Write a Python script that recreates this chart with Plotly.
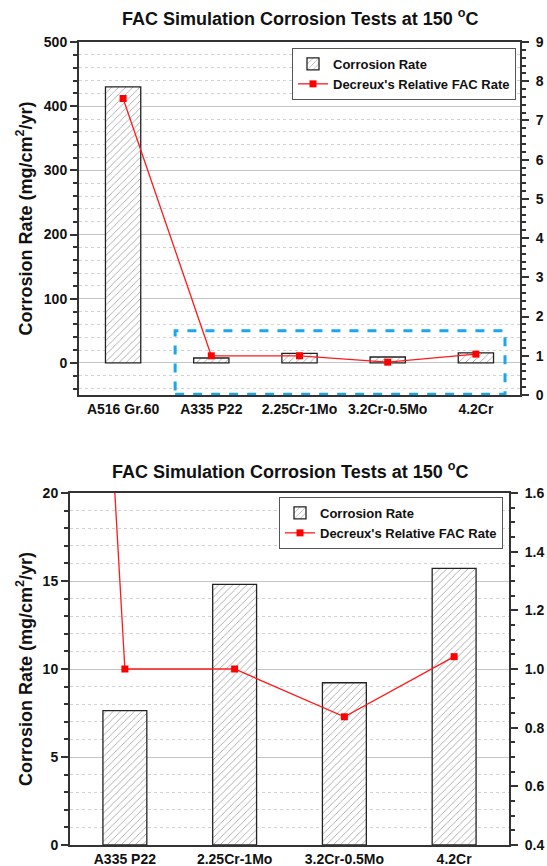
import plotly.graph_objects as go

# ---------------- data ----------------
categories = ["A516 Gr.60", "A335 P22", "2.25Cr-1Mo", "3.2Cr-0.5Mo", "4.2Cr"]
corrosion_rate = [430, 7.63, 14.81, 9.22, 15.72]          # mg/cm2/yr
decreux_relative = [7.56, 1.0, 1.0, 0.837, 1.042]         # relative FAC rate

title_text = "FAC Simulation Corrosion Tests at 150 <sup>o</sup>C"
ytitle_text = "Corrosion Rate (mg/cm<sup>2</sup>/yr)"

W, H = 547, 866
FONT = "Liberation Sans, Arial, sans-serif"


def px_x(p):
    return p / W


def px_y(p):
    return 1 - p / H


bar_style = dict(
    marker=dict(
        color="white",
        line=dict(color="#222", width=1.3),
        pattern=dict(shape="/", fgcolor="#3a3a3a", bgcolor="white", size=5, solidity=0.16),
    ),
    width=0.4,
)
line_style = dict(
    mode="lines+markers",
    line=dict(color="#ff1a1a", width=1.3),
    marker=dict(symbol="square", size=7, color="#ff0000"),
)

fig = go.Figure()

# top panel
fig.add_trace(go.Bar(x=categories, y=corrosion_rate, name="Corrosion Rate",
                     xaxis="x", yaxis="y", legend="legend", **bar_style))
fig.add_trace(go.Scatter(x=categories, y=decreux_relative, name="Decreux's Relative FAC Rate",
                         xaxis="x", yaxis="y2", legend="legend", **line_style))

# bottom panel (zoomed)
fig.add_trace(go.Bar(x=categories[1:], y=corrosion_rate[1:], name="Corrosion Rate",
                     xaxis="x2", yaxis="y3", legend="legend2", **bar_style))
fig.add_trace(go.Scatter(x=categories, y=decreux_relative, name="Decreux's Relative FAC Rate",
                         xaxis="x2", yaxis="y4", legend="legend2", **line_style))

tickfont = dict(family=FONT, size=14, color="#111", weight="bold")
axis_line = dict(showline=True, linecolor="#333", linewidth=2, automargin=False)
grid_major = dict(showgrid=True, gridcolor="#c4c4c4", gridwidth=1.3)
zero = dict(zeroline=False)

top_x = [px_x(79), px_x(520)]
top_y = [px_y(395), px_y(42)]
bot_x = [px_x(70), px_x(509)]
bot_y = [px_y(845), px_y(493)]

fig.update_layout(
    width=W, height=H,
    margin=dict(l=0, r=0, t=0, b=0, autoexpand=False),
    paper_bgcolor="white", plot_bgcolor="white",
    font=dict(family=FONT, color="#111"),
    xaxis=dict(domain=top_x, anchor="y", type="category", categoryarray=categories,
               categoryorder="array", range=[-0.5, 4.5], mirror=True, ticks="",
               tickfont=tickfont, showgrid=False, **axis_line),
    yaxis=dict(domain=top_y, anchor="x", range=[-50, 500], tick0=0, dtick=100,
               ticks="outside", ticklen=7, tickwidth=1.5, tickcolor="#333",
               tickfont=tickfont,
               minor=dict(dtick=20, ticks="outside", ticklen=4, tickcolor="#333",
                          showgrid=True, gridcolor="#d2d2d2", griddash="dot", gridwidth=1),
               **grid_major, **axis_line, **zero),
    yaxis2=dict(overlaying="y", anchor="x", side="right", range=[0, 9], tick0=0, dtick=1,
                ticks="outside", ticklen=7, tickwidth=1.5, tickcolor="#333",
                tickfont=tickfont, showgrid=False, ticklabelstandoff=4,
                minor=dict(dtick=0.2, ticks="outside", ticklen=4, tickcolor="#333", showgrid=False),
                **axis_line, **zero),
    xaxis2=dict(domain=bot_x, anchor="y3", type="category", categoryarray=categories,
                categoryorder="array", range=[0.5, 4.5], mirror=True, ticks="",
                tickfont=tickfont, showgrid=False, **axis_line),
    yaxis3=dict(domain=bot_y, anchor="x2", range=[0, 20], tick0=0, dtick=5,
                ticks="outside", ticklen=7, tickwidth=1.5, tickcolor="#333",
                tickfont=tickfont,
                minor=dict(dtick=1, ticks="outside", ticklen=4, tickcolor="#333",
                           showgrid=True, gridcolor="#d2d2d2", griddash="dot", gridwidth=1),
                **grid_major, **axis_line, **zero),
    yaxis4=dict(overlaying="y3", anchor="x2", side="right", range=[0.4, 1.6], tick0=0.4,
                dtick=0.2, tickformat=".1f",
                ticks="outside", ticklen=7, tickwidth=1.5, tickcolor="#333",
                tickfont=tickfont, showgrid=False, ticklabelstandoff=4,
                minor=dict(dtick=0.05, ticks="outside", ticklen=4, tickcolor="#333", showgrid=False),
                **axis_line, **zero),
    legend=dict(x=px_x(516), y=px_y(48), xanchor="right", yanchor="top",
                bgcolor="white", bordercolor="#555", borderwidth=1,
                font=dict(family=FONT, size=13, color="#111", weight="bold"),
                tracegroupgap=0, itemwidth=30),
    legend2=dict(x=px_x(503), y=px_y(497), xanchor="right", yanchor="top",
                 bgcolor="white", bordercolor="#555", borderwidth=1,
                 font=dict(family=FONT, size=13, color="#111", weight="bold"),
                 tracegroupgap=0, itemwidth=30),
    showlegend=True,
)

# highlight box (zoom region) on top panel
fig.add_shape(type="rect", xref="x", yref="y", x0=0.59, x1=4.33, y0=-49, y1=50,
              line=dict(color="#1aa7ec", width=3, dash="dash"), fillcolor="rgba(0,0,0,0)",
              layer="above")

title_font = dict(family=FONT, size=18, color="#111", weight="bold")
fig.add_annotation(text=title_text, xref="paper", yref="paper",
                   x=(top_x[0] + top_x[1]) / 2, y=px_y(17), xanchor="center", yanchor="middle",
                   showarrow=False, font=title_font)
fig.add_annotation(text=title_text, xref="paper", yref="paper",
                   x=(bot_x[0] + bot_x[1]) / 2, y=px_y(470), xanchor="center", yanchor="middle",
                   showarrow=False, font=title_font)

ytitle_font = dict(family=FONT, size=18, color="#111", weight="bold")
for dom in (top_y, bot_y):
    fig.add_annotation(text=ytitle_text, xref="paper", yref="paper",
                       x=px_x(25), y=(dom[0] + dom[1]) / 2, xanchor="center", yanchor="middle",
                       textangle=-90, showarrow=False, font=ytitle_font)

fig.write_html("out.html", config={"displayModeBar": False},
               post_script="document.body.style.margin='0';document.body.style.overflow='hidden';")
